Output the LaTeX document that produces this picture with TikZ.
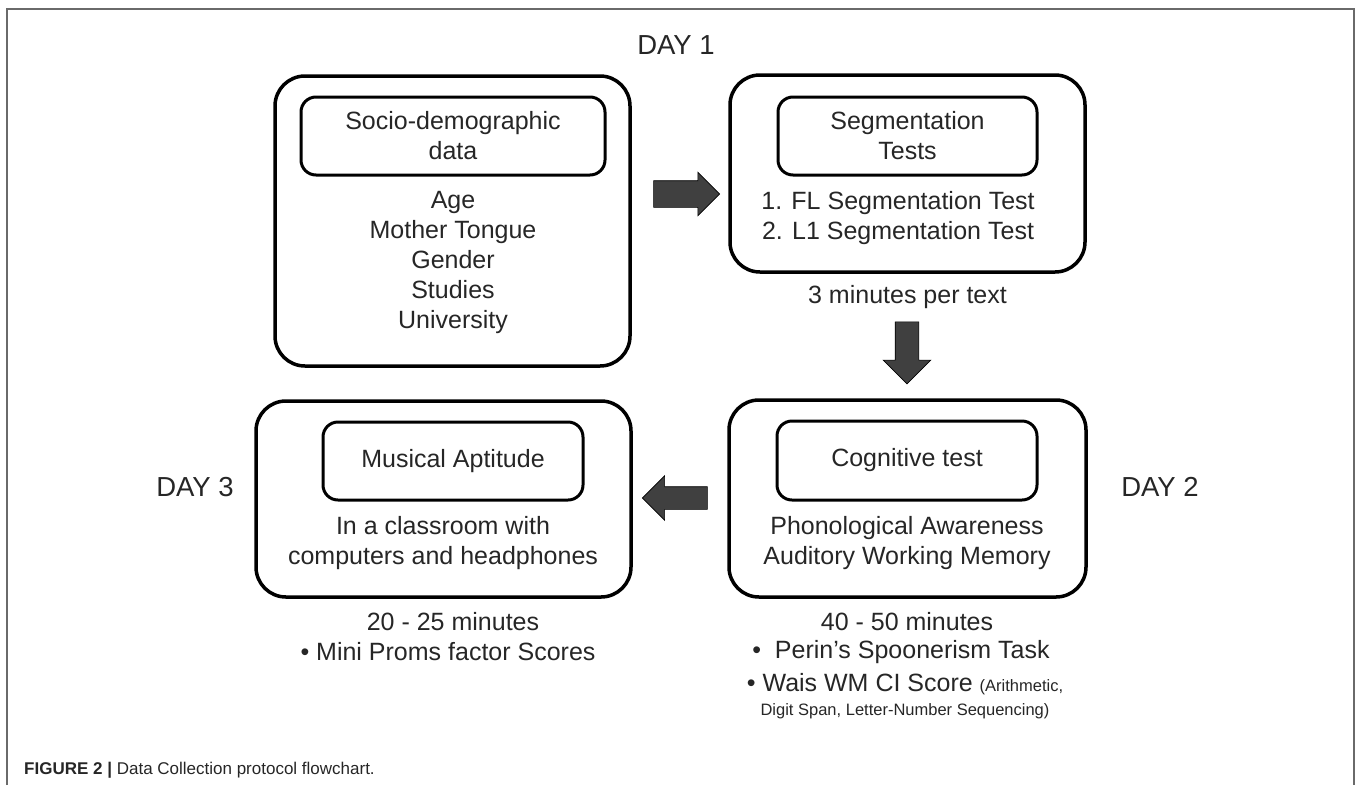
\documentclass[tikz,border=0pt]{standalone}
\usepackage{fontspec}
\setmainfont{Liberation Sans}
\usepackage{tikz}
\usetikzlibrary{shapes.arrows,positioning}

\definecolor{inkgray}{HTML}{262626}
\definecolor{arrowfill}{HTML}{404040}
\definecolor{framegray}{HTML}{6A6A6A}
\newcommand{\smallfont}{\fontsize{16.5}{18}\selectfont}

\begin{document}
\begin{tikzpicture}[x=1pt, y=-1pt,
    outerbox/.style={draw=black, line width=3.5pt, rounded corners=30pt, inner sep=0pt},
    innerbox/.style={draw=black, line width=3pt, rounded corners=15pt, inner sep=0pt},
    txt/.style={text=inkgray, font=\fontsize{25}{30}\selectfont, align=center, inner sep=0pt},
    daytxt/.style={text=inkgray, font=\fontsize{27.5}{32}\selectfont, inner sep=0pt},
    blockarrow/.style={single arrow, draw=black, line width=0.6pt, fill=arrowfill,
        inner xsep=0pt, single arrow tip angle=90}]

    % 画布范围
    \useasboundingbox (0,0) rectangle (1357,785);

    % 1. 外框 (底部开口)
    \draw[framegray, line width=2pt] (7,785) -- (7,9) -- (1354,9) -- (1354,785);

    % 2. 第一天: 社会人口学数据
    \node[daytxt] (day1) at (676,45) {DAY 1};
    \node[outerbox, minimum width=355pt, minimum height=290pt] (sociobox) at (452.5,221) {};
    \node[innerbox, txt, minimum width=304pt, minimum height=78pt] (sociohead) at (453,136) {Socio-demographic\\data};
    \node[txt] (sociolist) at (453,262) {Age\\Mother Tongue\\Gender\\Studies\\University};

    % 3. 分词测试
    \node[outerbox, minimum width=355pt, minimum height=197pt] (segbox) at (907.5,173.5) {};
    \node[innerbox, txt, minimum width=259pt, minimum height=78pt] (seghead) at (907.5,136) {Segmentation\\Tests};
    \node[txt] (seglist) at (898,218) {1. FL Segmentation Test\\2. L1 Segmentation Test};
    \node[txt] (segtime) at (907.5,297) {3 minutes per text};

    % 4. 第二天: 认知测试
    \node[daytxt] (day2) at (1160,487) {DAY 2};
    \node[outerbox, minimum width=357pt, minimum height=197pt] (cogbox) at (907.5,498.5) {};
    \node[innerbox, txt, minimum width=260pt, minimum height=79pt] (coghead) at (907,460.5) {Cognitive test};
    \node[txt] (coglist) at (907,543) {Phonological Awareness\\Auditory Working Memory};
    \node[txt] (cogtime) at (907,622) {40 - 50 minutes};
    \node[txt] (cogtaskA) at (901,652) {\textbullet\ \ Perin's Spoonerism Task};
    \node[txt] (cogtaskB) at (905,696) {\textbullet\ Wais WM CI Score {\smallfont(Arithmetic,}\\[-6pt]
        {\smallfont Digit Span, Letter-Number Sequencing)}};

    % 5. 第三天: 音乐能力
    \node[daytxt] (day3) at (195,487) {DAY 3};
    \node[outerbox, minimum width=375pt, minimum height=196pt] (musicbox) at (443.5,499) {};
    \node[innerbox, txt, minimum width=260pt, minimum height=78pt] (musichead) at (453,461) {Musical Aptitude};
    \node[txt] (musicnote) at (443,543) {In a classroom with\\computers and headphones};
    \node[txt] (musictime) at (453,622) {20 - 25 minutes};
    \node[txt] (musicscore) at (448,652) {\textbullet\ Mini Proms factor Scores};

    % 6. 块状箭头
    \node[blockarrow, minimum height=66pt, inner ysep=13pt, single arrow head extend=8.5pt] (arrowR) at (680,194) {};
    \node[blockarrow, rotate=-90, minimum height=62pt, inner ysep=11.5pt, single arrow head extend=12pt] (arrowD) at (907,347) {};
    \node[blockarrow, rotate=180, minimum height=65pt, inner ysep=11pt, single arrow head extend=11pt] (arrowL) at (680.5,498) {};

    % 7. 图注
    \node[anchor=west, inner sep=0pt, text=inkgray, font=\fontsize{17}{20}\selectfont] (caption) at (24,770)
        {\textbf{FIGURE 2 |} Data Collection protocol flowchart.};

\end{tikzpicture}
\end{document}
